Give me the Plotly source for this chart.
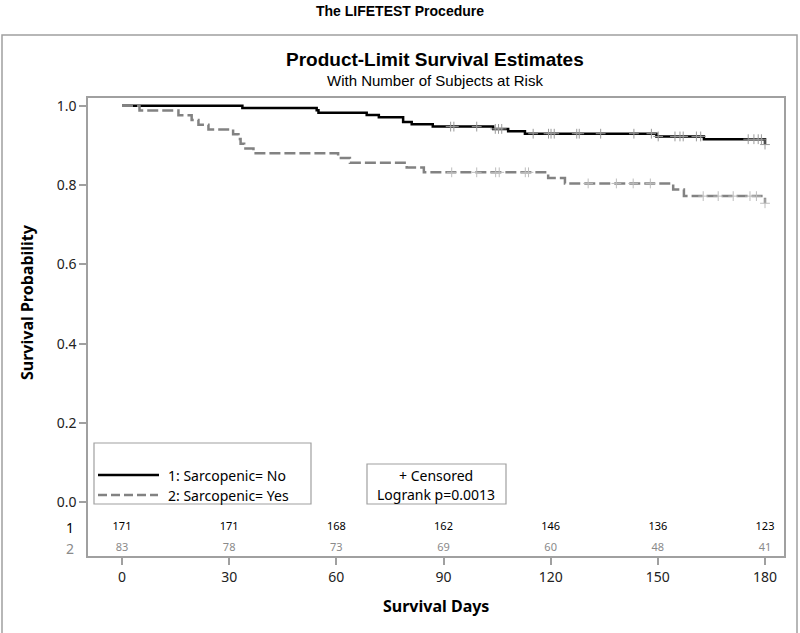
import plotly.graph_objects as go

# ---------------- data ----------------
# Group 1: Sarcopenic = No (event times, survival after step)
no_times = [0, 33.7, 54.5, 55.0, 68.5, 71.9, 78.7, 81.1, 87.0, 103.9, 108.1, 112.8, 149.6, 162.9, 180]
no_surv = [1.0, 0.9942, 0.9883, 0.9825, 0.9766, 0.9708, 0.9591, 0.9532, 0.9473, 0.9415, 0.9355, 0.9294, 0.9225, 0.9155, 0.902]
no_censor = [92.0, 92.9, 99.3, 104.5, 105.4, 106.3, 115.1, 119.4, 120.1, 121.0, 127.3, 128.0, 134.0, 143.3,
             148.2, 150.1, 154.8, 156.2, 157.1, 160.8, 162.0, 175.3, 176.9, 178.1, 179.0, 180]

# Group 2: Sarcopenic = Yes
yes_times = [0, 4.9, 15.8, 19.5, 21.4, 24.2, 31.1, 32.6, 33.2, 34.2, 36.8, 60.5, 63.8, 79.7, 84.5,
             119.3, 124.0, 154.3, 157.3, 180]
yes_surv = [1.0, 0.988, 0.976, 0.964, 0.952, 0.940, 0.928, 0.916, 0.904, 0.892, 0.880, 0.868, 0.856,
            0.844, 0.832, 0.818, 0.804, 0.789, 0.772, 0.754]
yes_censor = [92.3, 99.3, 104.6, 105.6, 112.9, 113.8, 130.5, 138.4, 143.1, 147.9,
              162.7, 166.9, 171.1, 175.8, 177.6, 180]

# Number at risk
risk_times = [0, 30, 60, 90, 120, 150, 180]
risk_no = [171, 171, 168, 162, 146, 136, 123]
risk_yes = [83, 78, 73, 69, 60, 48, 41]

x_ticks = [0, 30, 60, 90, 120, 150, 180]
y_ticks = [0.0, 0.2, 0.4, 0.6, 0.8, 1.0]

# ---------------- helpers ----------------
def surv_at(t, times, surv):
    s = surv[0]
    for ti, si in zip(times, surv):
        if ti <= t:
            s = si
    return s

PL, PR, PT, PB = 88, 784, 98, 556  # plot area in pixels
def px(x):
    return (x - PL) / (PR - PL)
def py(y):
    return (PB - y) / (PB - PT)

FONT = "Noto Sans, Open Sans, DejaVu Sans, sans-serif"
TFONT = "Liberation Sans Narrow, Arial Narrow, Liberation Sans, sans-serif"
FRAME = "#a0a0a0"
GRAY = "#828282"

fig = go.Figure()

fig.add_trace(go.Scatter(x=no_times, y=no_surv, mode="lines", line=dict(color="black", width=2.5, shape="hv"),
                         showlegend=False, hoverinfo="skip"))
fig.add_trace(go.Scatter(x=no_censor, y=[surv_at(t, no_times, no_surv) for t in no_censor],
                         mode="markers", marker=dict(symbol="cross-thin", size=7, line=dict(color="#9a9a9a", width=1)),
                         showlegend=False, hoverinfo="skip"))
fig.add_trace(go.Scatter(x=yes_times, y=yes_surv, mode="lines",
                         line=dict(color=GRAY, width=2.5, shape="hv", dash="11px,4px"),
                         showlegend=False, hoverinfo="skip"))
fig.add_trace(go.Scatter(x=yes_censor, y=[surv_at(t, yes_times, yes_surv) for t in yes_censor],
                         mode="markers", marker=dict(symbol="cross-thin", size=7, line=dict(color="#bdbdbd", width=1)),
                         showlegend=False, hoverinfo="skip"))

# at-risk table rows
fig.add_trace(go.Scatter(x=risk_times, y=[-0.063] * len(risk_times), mode="text",
                         text=[str(v) for v in risk_no], textfont=dict(family=FONT, size=11, color="black"),
                         showlegend=False, hoverinfo="skip", cliponaxis=False))
fig.add_trace(go.Scatter(x=risk_times, y=[-0.116] * len(risk_times), mode="text",
                         text=[str(v) for v in risk_yes], textfont=dict(family=FONT, size=11, color="#8a8a8a"),
                         showlegend=False, hoverinfo="skip", cliponaxis=False))

xr = [(PL - 122) / 3.5722, (PR - 122) / 3.5722]
y_per = 502.3 - 105.7
yr = [-(PB - 502.3) / y_per, 1 + (105.7 - PT) / y_per]

fig.update_layout(
    width=800, height=633,
    margin=dict(l=PL, r=800 - PR, t=PT, b=633 - PB),
    paper_bgcolor="white", plot_bgcolor="white",
    showlegend=False,
    xaxis=dict(range=xr, tickvals=x_ticks, ticktext=[str(v) for v in x_ticks],
               ticks="outside", ticklen=7, tickcolor=FRAME, tickwidth=1.5,
               showline=True, linecolor=FRAME, linewidth=1.5, mirror=True,
               showgrid=False, zeroline=False,
               tickfont=dict(family=FONT, size=14, color="#222")),
    yaxis=dict(range=yr, tickvals=y_ticks, ticktext=["%.1f" % v for v in y_ticks],
               ticks="outside", ticklen=7, tickcolor=FRAME, tickwidth=1.5,
               showline=True, linecolor=FRAME, linewidth=1.5, mirror=True,
               showgrid=False, zeroline=False,
               tickfont=dict(family=FONT, size=14, color="#222")),
)

shapes = []
# outer frame
shapes.append(dict(type="rect", xref="paper", yref="paper", x0=px(2), x1=px(797), y0=py(640), y1=py(35),
                   line=dict(color=FRAME, width=1.5), fillcolor="rgba(0,0,0,0)", layer="below"))
# legend box
shapes.append(dict(type="rect", xref="paper", yref="paper", x0=px(94), x1=px(311), y0=py(504), y1=py(443),
                   line=dict(color=FRAME, width=1.2), fillcolor="white"))
shapes.append(dict(type="line", xref="paper", yref="paper", x0=px(98), x1=px(159), y0=py(475), y1=py(475),
                   line=dict(color="black", width=2.5)))
shapes.append(dict(type="line", xref="paper", yref="paper", x0=px(98), x1=px(158), y0=py(495), y1=py(495),
                   line=dict(color=GRAY, width=2.5, dash="9px,4px")))
# censored / logrank box
shapes.append(dict(type="rect", xref="paper", yref="paper", x0=px(367), x1=px(506), y0=py(504), y1=py(464),
                   line=dict(color=FRAME, width=1.2), fillcolor="white"))
fig.update_layout(shapes=shapes)

ann = []
def add(text, x, y, size, color="black", bold=False, family=FONT, xanchor="center", angle=0):
    t = "<b>%s</b>" % text if bold else text
    ann.append(dict(text=t, x=px(x), y=py(y), xref="paper", yref="paper", showarrow=False,
                    xanchor=xanchor, yanchor="middle", textangle=angle,
                    font=dict(family=family, size=size, color=color)))

add("The LIFETEST Procedure", 400, 11, 14, bold=True, family=TFONT)
add("Product-Limit Survival Estimates", 435, 60, 19, bold=True, family=TFONT)
add("With Number of Subjects at Risk", 435, 80, 15, family=TFONT)
add("Survival Probability", 27, 302, 16, bold=True, angle=-90)
add("Survival Days", 436, 606, 16, bold=True)
add("1: Sarcopenic= No", 166, 475, 14, xanchor="left")
add("2: Sarcopenic= Yes", 166, 495, 14, xanchor="left")
add("+ Censored", 436, 475, 14)
add("Logrank p=0.0013", 436, 494, 14)
add("1", 70, 527, 14)
add("2", 70, 548, 14, color="#8a8a8a")
fig.update_layout(annotations=ann)

fig.write_html("out.html", config={"displayModeBar": False},
               post_script="document.body.style.margin='0';document.body.style.overflow='hidden';")
